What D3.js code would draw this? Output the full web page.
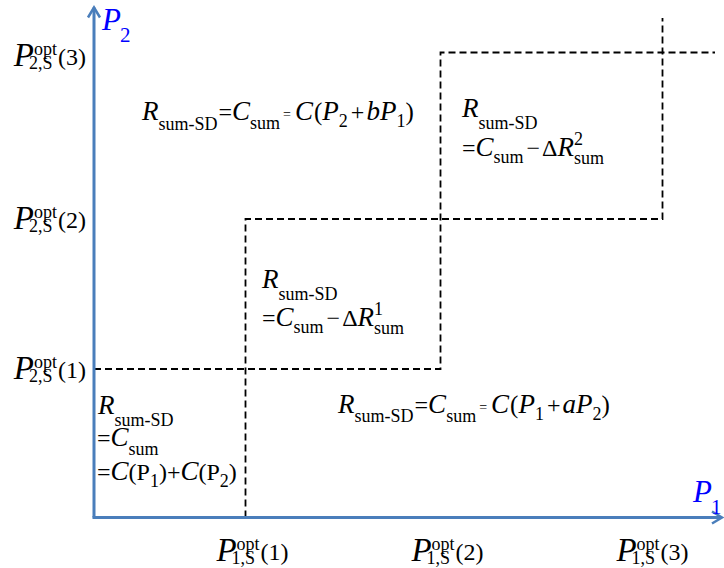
<!DOCTYPE html>
<html>
<head>
<meta charset="utf-8">
<script src="https://cdn.jsdelivr.net/npm/d3@7"></script>
<style>
  html, body { margin: 0; padding: 0; background: #fff; }
</style>
</head>
<body>
<svg id="chart" width="724" height="568"></svg>
<script>
// ---------- data ----------
const xThresholds = [1.01, 2.31, 3.79];   // P1,S opt (1),(2),(3)
const yThresholds = [0.99, 1.99, 3.10];   // P2,S opt (1),(2),(3)
const tickIndex   = ["(1)", "(2)", "(3)"];
const xDomainMax  = 4.2;
const yDomainMax  = 3.4;
const xDashEnd    = 4.14;   // extent of top dashed line
const yDashEnd    = 3.33;   // extent of right dashed line

// ---------- setup ----------
const FONT = "'Liberation Serif', 'Times New Roman', 'DejaVu Serif', serif";
const svg = d3.select("#chart");
const x = d3.scaleLinear().domain([0, xDomainMax]).range([94, 724]);
const y = d3.scaleLinear().domain([0, yDomainMax]).range([517.5, 7.5]);
const axisColor = "#4a7ebb";

// rich text helper
function rich(parent, px, py, runs, anchor) {
  const g = parent.append("g");
  let cx = 0, overW = null, overStart = 0;
  runs.forEach(r => {
    const startX = (overW !== null ? overStart : cx) + (r.dx || 0);
    const t = g.append("text")
      .attr("x", startX)
      .attr("y", r.dy || 0)
      .attr("fill", r.c || "#000")
      .attr("font-family", FONT)
      .attr("font-size", r.s)
      .attr("font-style", r.i ? "italic" : "normal")
      .text(r.t);
    const w = t.node().getComputedTextLength();
    if (r.over) {
      overStart = cx; overW = w + (r.dx || 0); cx = cx + overW;
    } else if (overW !== null) {
      cx = Math.max(overStart + overW, startX + w);
      overW = null;
    } else {
      cx = startX + w;
    }
  });
  let shift = 0;
  if (anchor === "end") shift = -cx;
  if (anchor === "middle") shift = -cx / 2;
  g.attr("transform", `translate(${px + shift},${py})`);
  return g;
}

// ---------- dashed staircase ----------
const line = d3.line().x(d => x(d[0])).y(d => y(d[1]));
const stairA = [[0, yThresholds[0]], [xThresholds[1], yThresholds[0]], [xThresholds[1], yThresholds[2]], [xDashEnd, yThresholds[2]]];
const stairB = [[xThresholds[0], 0], [xThresholds[0], yThresholds[1]], [xThresholds[2], yThresholds[1]], [xThresholds[2], yDashEnd]];
[stairA, stairB].forEach(p => {
  svg.append("path").attr("d", line(p))
    .attr("fill", "none").attr("stroke", "#000")
    .attr("stroke-width", 1.8).attr("stroke-dasharray", "7,4");
});

// ---------- axes ----------
svg.append("line").attr("x1", x(0)).attr("y1", y(0)).attr("x2", x(0)).attr("y2", y(yDomainMax))
  .attr("stroke", axisColor).attr("stroke-width", 3);
svg.append("line").attr("x1", x(0) - 1.5).attr("y1", y(0)).attr("x2", x(xDomainMax) - 2).attr("y2", y(0))
  .attr("stroke", axisColor).attr("stroke-width", 3);
svg.append("polyline")
  .attr("points", `${x(0) - 6},${y(yDomainMax) + 10} ${x(0)},${y(yDomainMax)} ${x(0) + 6},${y(yDomainMax) + 10}`)
  .attr("fill", "none").attr("stroke", axisColor).attr("stroke-width", 2.5);
svg.append("polyline")
  .attr("points", `${x(xDomainMax) - 12},${y(0) - 6} ${x(xDomainMax) - 2},${y(0)} ${x(xDomainMax) - 12},${y(0) + 6}`)
  .attr("fill", "none").attr("stroke", axisColor).attr("stroke-width", 2.5);

// axis names
rich(svg, x(0) + 8, 30, [
  { t: "P", s: 31, i: 1, c: "#0000ff" },
  { t: "2", s: 21, dy: 12, dx: -1, c: "#0000ff" }
]);
rich(svg, x(xDomainMax) - 31, 502, [
  { t: "P", s: 31, i: 1, c: "#0000ff" },
  { t: "1", s: 21, dy: 12, dx: -1, c: "#0000ff" }
]);

// tick labels
function tickRuns(axisNum, idx) {
  return [
    { t: "P", s: 33, i: 1 },
    { t: "opt", s: 18, dy: -11, over: true },
    { t: axisNum + ",S", s: 18, dy: 3, dx: -5 },
    { t: tickIndex[idx], s: 24, dy: -1, dx: 1 }
  ];
}
const xLabelShift = [7, 7, -10];
xThresholds.forEach((v, i) => {
  rich(svg, x(v) + xLabelShift[i], 561, tickRuns("1", i), "middle");
});
const yLabelShift = [10, 10, 13];
yThresholds.forEach((v, i) => {
  rich(svg, 86, y(v) + yLabelShift[i], tickRuns("2", i), "end");
});

// ---------- region annotations ----------
const R = (sub, subDy) => [
  { t: "R", s: 27, i: 1 },
  { t: sub, s: 18, dy: subDy }
];
function formula(v1, v2, coef) {
  return [
    ...R("sum-SD", 9.5),
    { t: "=", s: 24, dx: 1 },
    { t: "C", s: 27, i: 1 },
    { t: "sum", s: 18, dy: 9 },
    { t: "=", s: 14, dx: 3, dy: -1 },
    { t: "C", s: 27, i: 1, dx: 4 },
    { t: "(", s: 25, dx: 1 },
    { t: "P", s: 27, i: 1 },
    { t: v1, s: 18, dy: 7 },
    { t: "+", s: 24, dx: 3 },
    { t: coef, s: 27, i: 1, dx: 2 },
    { t: "P", s: 27, i: 1 },
    { t: v2, s: 18, dy: 7 },
    { t: ")", s: 25 }
  ];
}
function deltaLine(k) {
  return [
    { t: "=", s: 24 },
    { t: "C", s: 27, i: 1 },
    { t: "sum", s: 18, dy: 7 },
    { t: "\u2212", s: 24, dx: 3 },
    { t: "\u0394", s: 24, dx: 2 },
    { t: "R", s: 27, i: 1 },
    { t: k, s: 18, dy: -11, over: true },
    { t: "sum", s: 18, dy: 8 }
  ];
}
// top-left region
rich(svg, x(0.32), y(2.647), formula("2", "1", "b"));

// upper right region
rich(svg, x(2.453), y(2.667), R("sum-SD", 12));
rich(svg, x(2.453), y(2.413), deltaLine("2"));

// middle region
rich(svg, x(1.12), y(1.533), R("sum-SD", 12));
rich(svg, x(1.12), y(1.28), deltaLine("1"));

// bottom right region
rich(svg, x(1.627), y(0.7), formula("1", "2", "a"));

// bottom left region
rich(svg, x(0.027), y(0.69), R("sum-SD", 12));
rich(svg, x(0.02), y(0.48), [
  { t: "=", s: 24 },
  { t: "C", s: 27, i: 1 },
  { t: "sum", s: 18, dy: 9 }
]);
rich(svg, x(0.02), y(0.25), [
  { t: "=", s: 24 },
  { t: "C", s: 27, i: 1 },
  { t: "(P", s: 24 },
  { t: "1", s: 18, dy: 7 },
  { t: ")+", s: 24 },
  { t: "C", s: 27, i: 1 },
  { t: "(P", s: 24 },
  { t: "2", s: 18, dy: 7 },
  { t: ")", s: 24 }
]);
</script>
</body>
</html>
